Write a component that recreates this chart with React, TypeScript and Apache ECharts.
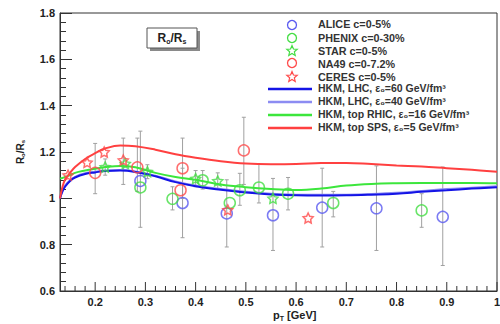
import React, { useEffect, useRef } from "react";
import * as echarts from "echarts";

// ---------- data ----------
const xMajorTicks = [0.2, 0.3, 0.4, 0.5, 0.6, 0.7, 0.8, 0.9, 1.0];
const xMajorLabels = ["0.2", "0.3", "0.4", "0.5", "0.6", "0.7", "0.8", "0.9", "1"];

// experimental points: [pT, R_o/R_s]
const aliceData = [[0.29, 1.075], [0.374, 0.98], [0.462, 0.935], [0.554, 0.927], [0.652, 0.96], [0.76, 0.957], [0.892, 0.92]];
const phenixData = [[0.29, 1.047], [0.354, 0.998], [0.414, 1.078], [0.468, 0.98], [0.488, 1.035], [0.526, 1.047], [0.584, 1.02], [0.674, 0.98], [0.85, 0.948]];
const starData = [[0.22, 1.135], [0.26, 1.15], [0.304, 1.115], [0.4, 1.085], [0.444, 1.075], [0.554, 1.0]];
const na49Data = [[0.2, 1.11], [0.284, 1.134], [0.374, 1.13], [0.37, 1.035], [0.496, 1.207]];
const ceresData = [[0.146, 1.1], [0.184, 1.155], [0.218, 1.2], [0.256, 1.165], [0.464, 0.95], [0.624, 0.915]];

// error bars: [pT, low, high]
const errorBars = [
  [0.2, 1.02, 1.237], [0.29, 0.875, 1.29], [0.284, 1.03, 1.26], [0.374, 0.83, 1.13], [0.374, 1.0, 1.26],
  [0.354, 0.95, 1.05], [0.414, 1.04, 1.12], [0.462, 0.79, 1.08], [0.488, 0.97, 1.108], [0.496, 1.06, 1.35],
  [0.526, 0.98, 1.147], [0.554, 0.775, 1.086], [0.584, 0.95, 1.09], [0.652, 0.79, 1.13], [0.674, 0.92, 1.03],
  [0.76, 0.775, 1.14], [0.85, 0.875, 1.02], [0.892, 0.71, 1.135], [0.256, 1.06, 1.26], [0.22, 1.1, 1.17],
  [0.304, 1.085, 1.145], [0.4, 1.05, 1.12], [0.444, 1.04, 1.11],
];

// HKM model curves
const curveX = [0.13, 0.135, 0.14, 0.15, 0.16, 0.18, 0.2, 0.22, 0.25, 0.28, 0.32, 0.36, 0.4, 0.45, 0.5, 0.55, 0.6, 0.65, 0.7, 0.75, 0.8, 0.85, 0.9, 0.95, 1.0];
const lhc60Y = [1.0, 1.03, 1.05, 1.075, 1.09, 1.105, 1.112, 1.118, 1.12, 1.114, 1.095, 1.07, 1.052, 1.037, 1.025, 1.017, 1.013, 1.012, 1.013, 1.016, 1.02, 1.028, 1.035, 1.042, 1.048];
const lhc40Y = [1.0, 1.035, 1.055, 1.078, 1.093, 1.108, 1.115, 1.12, 1.122, 1.116, 1.098, 1.073, 1.055, 1.04, 1.028, 1.02, 1.016, 1.015, 1.016, 1.019, 1.024, 1.032, 1.04, 1.046, 1.052];
const rhicY = [1.085, 1.088, 1.092, 1.1, 1.11, 1.12, 1.128, 1.135, 1.14, 1.134, 1.11, 1.092, 1.08, 1.06, 1.048, 1.04, 1.036, 1.042, 1.055, 1.062, 1.065, 1.066, 1.066, 1.066, 1.065];
const spsY = [1.0, 1.05, 1.08, 1.11, 1.135, 1.17, 1.195, 1.215, 1.228, 1.225, 1.21, 1.19, 1.175, 1.16, 1.15, 1.147, 1.148, 1.152, 1.153, 1.148, 1.142, 1.137, 1.13, 1.123, 1.115];

const markerLabels = ["ALICE c=0-5%", "PHENIX c=0-30%", "STAR c=0-5%", "NA49 c=0-7.2%", "CERES c=0-5%"];
const lineLabels = ["HKM, LHC, ε₀=60 GeV/fm³", "HKM, LHC, ε₀=40 GeV/fm³", "HKM, top RHIC, ε₀=16 GeV/fm³", "HKM, top SPS, ε₀=5 GeV/fm³"];

// ---------- styles ----------
const BLUE_M = "#5a5af0";
const GREEN_M = "#44dd44";
const RED_M = "#ff4a4a";
const C_LHC60 = "#1414e6";
const C_LHC40 = "#8c8cf2";
const C_RHIC = "#3ce63c";
const C_SPS = "#ff4040";
const FONT = "Liberation Sans";
const STAR = "path://M0,-10L2.94,-4.05L9.51,-3.09L4.76,1.55L5.88,8.09L0,5L-5.88,8.09L-4.76,1.55L-9.51,-3.09L-2.94,-4.05Z";

function zip(xs: number[], ys: number[]) {
  return xs.map((x, i) => [x, ys[i]]);
}

export default function App() {
  const ref = useRef<HTMLDivElement>(null);
  useEffect(() => {
    if (!ref.current) return;
    const chart = echarts.init(ref.current, null, { renderer: "svg" });

    const xTicks: number[][] = [];
    for (let i = 7; i <= 50; i++) {
      const v = Math.round(i * 2) / 100;
      xTicks.push([v, i % 5 === 0 ? 1 : 0]);
    }

    const hollow = (color: string) => ({ color: "rgba(0,0,0,0)", borderColor: color, borderWidth: 1.5 });

    const legendMarkers = [
      { kind: "circle", color: BLUE_M, y: 25 },
      { kind: "circle", color: GREEN_M, y: 38 },
      { kind: "star", color: GREEN_M, y: 51 },
      { kind: "circle", color: RED_M, y: 63 },
      { kind: "star", color: RED_M, y: 77 },
    ];
    const markerTextY = [25, 39, 52, 65, 78];
    const lineColors = [C_LHC60, C_LHC40, C_RHIC, C_SPS];
    const lineY = [89, 102, 115, 128];

    const starPts = (cx: number, cy: number, r: number) => {
      const pts: number[][] = [];
      for (let k = 0; k < 10; k++) {
        const a = -Math.PI / 2 + (k * Math.PI) / 5;
        const rr = k % 2 === 0 ? r : r * 0.45;
        pts.push([cx + rr * Math.cos(a), cy + rr * Math.sin(a)]);
      }
      return pts;
    };

    const graphics: any[] = [];
    legendMarkers.forEach((m, i) => {
      if (m.kind === "circle") {
        graphics.push({ type: "circle", shape: { cx: 292, cy: m.y, r: 4.5 }, style: { fill: "none", stroke: m.color, lineWidth: 1.3 } });
      } else {
        graphics.push({ type: "polygon", shape: { points: starPts(292, m.y, 5.5) }, style: { fill: "none", stroke: m.color, lineWidth: 1.2 } });
      }
      graphics.push({
        type: "text", x: 318, y: markerTextY[i], scaleX: 1.08,
        style: { text: markerLabels[i], font: `bold 10px "${FONT}"`, fill: "#333", textVerticalAlign: "middle" },
      });
    });
    lineLabels.forEach((t, i) => {
      graphics.push({ type: "line", shape: { x1: 268, y1: lineY[i], x2: 312, y2: lineY[i] }, style: { stroke: lineColors[i], lineWidth: 2.5 } });
      graphics.push({
        type: "text", x: 318, y: lineY[i], scaleX: 1.05,
        style: { text: t, font: `bold 10px "${FONT}"`, fill: "#333", textVerticalAlign: "middle" },
      });
    });
    // title box with shadow
    graphics.push({ type: "rect", shape: { x: 150, y: 31, width: 50, height: 20 }, style: { fill: "#8a8a8a" } });
    graphics.push({ type: "rect", shape: { x: 147, y: 28, width: 50, height: 20 }, style: { fill: "#fff", stroke: "#555", lineWidth: 1 } });
    graphics.push({
      type: "text", x: 172, y: 38,
      style: {
        text: "{m|R}{s|o}{m|/R}{s|s}", textAlign: "center", textVerticalAlign: "middle",
        rich: {
          m: { fontFamily: FONT, fontWeight: "bold", fontSize: 12, fill: "#222", lineHeight: 14 },
          s: { fontFamily: FONT, fontWeight: "bold", fontSize: 7, fill: "#222", lineHeight: 14, verticalAlign: "bottom", padding: [6, 0, 0, 0] },
        },
      },
    });
    // y axis title (rotated)
    graphics.push({
      type: "text", x: 20, y: 152, rotation: Math.PI / 2,
      style: {
        text: "{m|R}{s|o}{m|/R}{s|s}", textAlign: "center", textVerticalAlign: "middle",
        rich: {
          m: { fontFamily: FONT, fontWeight: "bold", fontSize: 10, fill: "#222", lineHeight: 12 },
          s: { fontFamily: FONT, fontWeight: "bold", fontSize: 6, fill: "#222", lineHeight: 12, verticalAlign: "bottom", padding: [5, 0, 0, 0] },
        },
      },
    });
    // x axis title
    graphics.push({
      type: "text", x: 273, y: 315,
      style: {
        text: "{m|p}{s|T}{m| [GeV]}", textVerticalAlign: "middle",
        rich: {
          m: { fontFamily: FONT, fontWeight: "bold", fontSize: 11, fill: "#222", lineHeight: 14 },
          s: { fontFamily: FONT, fontWeight: "bold", fontSize: 7, fill: "#222", lineHeight: 14, verticalAlign: "bottom", padding: [6, 0, 0, 0] },
        },
      },
    });

    const curve = (name: string, ys: number[], color: string, z: number) => ({
      name, type: "line", data: zip(curveX, ys), smooth: 0.4, showSymbol: false, symbol: "none",
      lineStyle: { color, width: 2 }, z,
    });

    chart.setOption({
      animation: false,
      grid: { left: 60, right: 3, top: 13, bottom: 33, show: true, borderColor: "#333", borderWidth: 1, backgroundColor: "transparent" },
      xAxis: {
        type: "value", min: 0.13, max: 1.0,
        axisLine: { show: true, lineStyle: { color: "#333" } },
        axisTick: { show: false }, axisLabel: { show: false }, splitLine: { show: false },
      },
      yAxis: {
        type: "value", min: 0.6, max: 1.8, interval: 0.2,
        axisLine: { show: true, lineStyle: { color: "#333" } },
        axisTick: { show: true, inside: true, length: 12, lineStyle: { color: "#333" } },
        minorTick: { show: true, splitNumber: 5, length: 6, lineStyle: { color: "#333" } },
        splitLine: { show: false },
        axisLabel: {
          margin: 5, fontFamily: FONT, fontWeight: "bold", fontSize: 11, color: "#222",
          formatter: (v: number) => (Math.abs(v - 1) < 1e-6 ? "1" : v.toFixed(1)),
        },
      },
      graphic: graphics,
      series: [
        {
          name: "xticks", type: "custom", data: xTicks, clip: false, silent: true, z: 1,
          renderItem: (params: any, api: any) => {
            const v = api.value(0);
            const major = api.value(1) === 1;
            const p = api.coord([v, 0.6]);
            const children: any[] = [
              { type: "line", shape: { x1: p[0], y1: p[1], x2: p[0], y2: p[1] - (major ? 9 : 5) }, style: { stroke: "#333", lineWidth: 1 } },
            ];
            if (major) {
              const idx = xMajorTicks.findIndex((t) => Math.abs(t - v) < 1e-6);
              if (idx >= 0) {
                children.push({
                  type: "text", x: p[0], y: p[1] + 11,
                  style: { text: xMajorLabels[idx], font: `bold 11px "${FONT}"`, fill: "#222", textAlign: "center", textVerticalAlign: "middle" },
                });
              }
            }
            return { type: "group", children };
          },
        },
        {
          name: "errors", type: "custom", data: errorBars, silent: true, z: 2,
          renderItem: (params: any, api: any) => {
            const x = api.value(0);
            const lo = api.coord([x, api.value(1)]);
            const hi = api.coord([x, api.value(2)]);
            const st = { stroke: "#a0a0a0", lineWidth: 1 };
            return {
              type: "group",
              children: [
                { type: "line", shape: { x1: lo[0], y1: lo[1], x2: hi[0], y2: hi[1] }, style: st },
                { type: "line", shape: { x1: lo[0] - 2, y1: lo[1], x2: lo[0] + 2, y2: lo[1] }, style: st },
                { type: "line", shape: { x1: hi[0] - 2, y1: hi[1], x2: hi[0] + 2, y2: hi[1] }, style: st },
              ],
            };
          },
        },
        curve("HKM LHC 40", lhc40Y, C_LHC40, 3),
        curve("HKM LHC 60", lhc60Y, C_LHC60, 4),
        curve("HKM RHIC", rhicY, C_RHIC, 5),
        curve("HKM SPS", spsY, C_SPS, 5),
        { name: "ALICE", type: "scatter", data: aliceData, symbol: "circle", symbolSize: 11, itemStyle: hollow(BLUE_M), z: 6 },
        { name: "PHENIX", type: "scatter", data: phenixData, symbol: "circle", symbolSize: 11, itemStyle: hollow(GREEN_M), z: 6 },
        { name: "STAR", type: "scatter", data: starData, symbol: STAR, symbolSize: 10, itemStyle: hollow(GREEN_M), z: 6 },
        { name: "NA49", type: "scatter", data: na49Data, symbol: "circle", symbolSize: 11, itemStyle: hollow(RED_M), z: 6 },
        { name: "CERES", type: "scatter", data: ceresData, symbol: STAR, symbolSize: 10, itemStyle: hollow(RED_M), z: 6 },
      ],
    });
    return () => chart.dispose();
  }, []);
  return <div ref={ref} style={{ position: "fixed", left: 0, top: 0, width: 500, height: 324, background: "#fff" }} />;
}
